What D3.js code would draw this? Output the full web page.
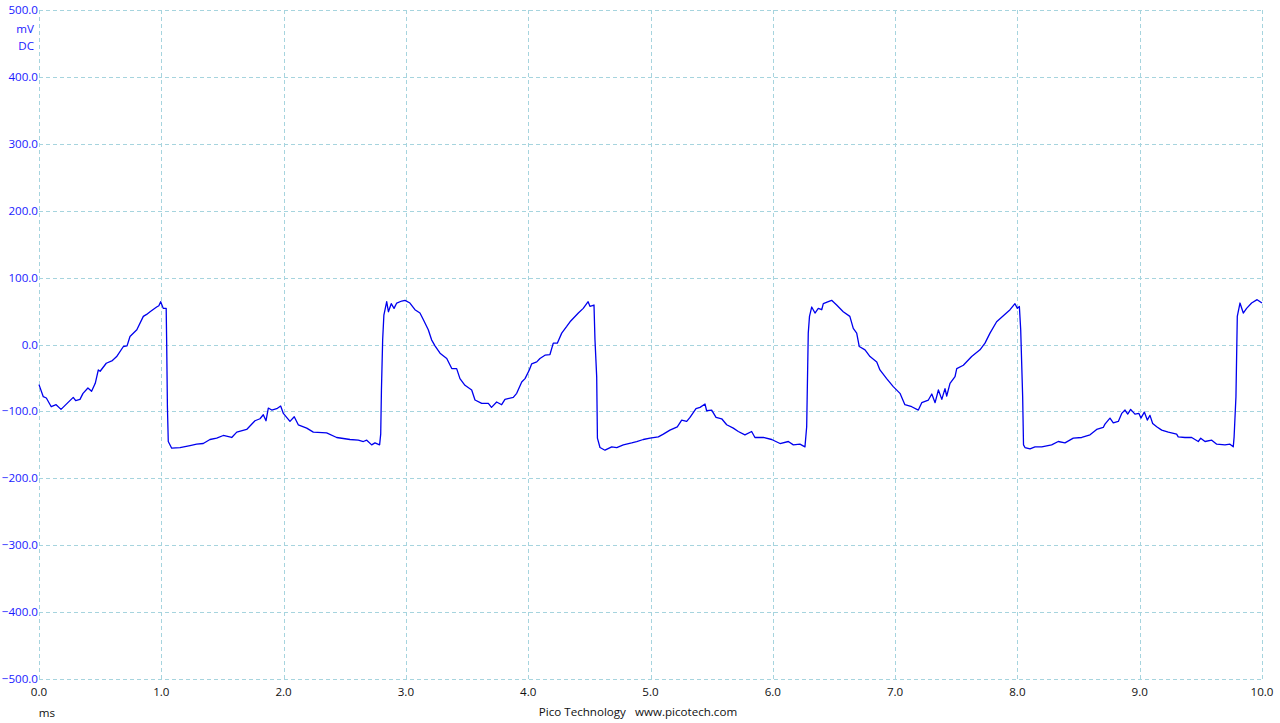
<!DOCTYPE html>
<html><head><meta charset="utf-8">
<script src="https://cdn.jsdelivr.net/npm/d3@7"></script>
<style>
html,body{margin:0;padding:0;background:#fff;}
svg{display:block;}
text{font-family:"Open Sans","Noto Sans",sans-serif;font-size:11.6px;}
</style></head>
<body><svg id="c" width="1280" height="723"></svg>
<script>
const xTicks = [0,1,2,3,4,5,6,7,8,9,10];
const yTicks = [500,400,300,200,100,0,-100,-200,-300,-400,-500];
const xUnit = "ms";
const yUnit = ["mV","DC"];
const footer = "Pico Technology   www.picotech.com";

const timeMs = [
0,0.035,0.06,0.10,0.14,0.18,0.23,0.28,0.30,0.335,
0.36,0.40,0.43,0.46,0.485,0.50,0.55,0.60,0.635,0.69,
0.72,0.744,0.80,0.853,0.88,0.908,0.962,0.98,0.995,1.016,
1.04,1.044,1.05,1.057,1.085,1.153,1.235,1.289,1.343,1.398,
1.453,1.507,1.576,1.617,1.698,1.766,1.807,1.834,1.856,1.875,
1.903,1.944,1.976,1.998,2.052,2.087,2.120,2.189,2.243,2.352,
2.434,2.543,2.611,2.652,2.680,2.720,2.747,2.785,2.794,2.80,
2.81,2.82,2.837,2.843,2.857,2.88,2.903,2.925,2.966,2.993,
3.033,3.074,3.115,3.143,3.183,3.21,3.238,3.279,3.334,3.375,
3.415,3.442,3.483,3.538,3.565,3.62,3.674,3.70,3.742,3.783,
3.81,3.878,3.906,3.947,3.974,4.009,4.028,4.07,4.096,4.137,
4.178,4.205,4.238,4.274,4.315,4.342,4.41,4.45,4.49,4.505,
4.538,4.546,4.56,4.566,4.587,4.628,4.683,4.724,4.778,4.846,
4.887,4.941,4.996,5.064,5.105,5.159,5.219,5.255,5.296,5.323,
5.372,5.405,5.446,5.459,5.500,5.536,5.582,5.623,5.677,5.718,
5.772,5.827,5.854,5.922,5.991,6.059,6.127,6.168,6.222,6.263,
6.277,6.29,6.30,6.318,6.345,6.372,6.40,6.413,6.454,6.481,
6.522,6.576,6.63,6.658,6.686,6.707,6.754,6.795,6.85,6.876,
6.931,6.985,7.04,7.08,7.136,7.19,7.218,7.272,7.30,7.327,
7.354,7.382,7.408,7.422,7.449,7.49,7.504,7.558,7.626,7.694,
7.735,7.776,7.83,7.885,7.94,7.98,8.0,8.016,8.027,8.043,
8.050,8.062,8.103,8.144,8.199,8.280,8.334,8.389,8.457,8.526,
8.594,8.648,8.702,8.716,8.757,8.784,8.825,8.853,8.880,8.902,
8.926,8.961,8.994,9.010,9.038,9.062,9.084,9.106,9.139,9.180,
9.234,9.302,9.315,9.370,9.425,9.479,9.499,9.534,9.589,9.630,
9.697,9.738,9.765,9.772,9.787,9.798,9.82,9.847,9.874,9.915,
9.96,10.0
];
const voltageMv = [
-60,-78,-80,-93,-90,-97,-88,-79,-84,-82,
-73,-65,-70,-58,-38,-40,-28,-24,-18,-3,
-2,12,22,42,45,49,56,58,64,54,
54,2,-93,-145,-155,-154,-151,-149,-148,-142,
-140,-136,-139,-131,-127,-114,-111,-105,-114,-95,
-98,-96,-92,-103,-115,-108,-120,-125,-131,-132,
-139,-142,-143,-145,-143,-150,-147,-150,-134,-68,
7,44,59,64,49,61,54,62,65,66,
62,52,47,37,22,7,-2,-13,-21,-36,
-36,-51,-61,-68,-83,-88,-88,-94,-86,-90,
-82,-79,-73,-56,-51,-38,-29,-26,-21,-16,
-15,2,2,17,27,34,47,54,64,57,
59,7,-48,-140,-154,-158,-153,-154,-150,-147,
-145,-142,-140,-138,-134,-128,-123,-113,-115,-109,
-96,-94,-89,-99,-98,-109,-111,-120,-125,-130,
-135,-130,-139,-139,-142,-148,-145,-150,-149,-153,
-123,17,42,56,47,54,52,61,64,66,
59,49,42,24,17,-3,-8,-18,-26,-38,
-51,-63,-73,-90,-93,-98,-87,-83,-74,-87,
-68,-82,-66,-77,-58,-48,-36,-31,-18,-8,
2,17,34,43,52,61,54,57,22,-78,
-150,-154,-156,-153,-153,-150,-145,-147,-140,-139,
-135,-127,-124,-119,-110,-117,-115,-103,-98,-104,
-97,-104,-103,-110,-101,-113,-106,-118,-123,-128,
-131,-134,-138,-139,-139,-145,-140,-145,-143,-149,
-150,-149,-153,-138,-78,42,62,47,54,62,
67,62
];

const plotL = 39, plotR = 1262, plotT = 10, plotB = 679;
const x = d3.scaleLinear().domain([0,10]).range([plotL,plotR]);
const y = d3.scaleLinear().domain([-500,500]).range([plotB,plotT]);
const svg = d3.select("#c");

const grid = svg.append("g").attr("stroke","#a6d4de").attr("stroke-width",1).attr("stroke-dasharray","4,3").attr("shape-rendering","crispEdges");
grid.selectAll("line.v").data(xTicks).join("line").attr("class","v")
  .attr("x1",d=>Math.round(x(d))+0.5).attr("x2",d=>Math.round(x(d))+0.5).attr("y1",plotT).attr("y2",plotB);
grid.selectAll("line.h").data(yTicks).join("line").attr("class","h")
  .attr("y1",d=>Math.round(y(d))+0.5).attr("y2",d=>Math.round(y(d))+0.5).attr("x1",plotL).attr("x2",plotR);

const yl = svg.append("g");
yl.selectAll("text").data(yTicks).join("text")
  .attr("x",plotL-1).attr("y",d=>y(d)).attr("dy","0.35em").attr("text-anchor","end")
  .attr("fill","#1a1aff").text(d=>d3.format(".1f")(d));
yl.selectAll("text.u").data(yUnit).join("text").attr("class","u")
  .attr("x",plotL-5).attr("y",(d,i)=>29+i*17).attr("dy","0.35em").attr("text-anchor","end")
  .attr("fill","#1a1aff").text(d=>d);

const xl = svg.append("g");
xl.selectAll("text").data(xTicks).join("text")
  .attr("x",d=>x(d)).attr("y",692).attr("dy","0.35em").attr("text-anchor","middle")
  .attr("fill","#111").text(d=>d3.format(".1f")(d));
svg.append("text").attr("x",47).attr("y",713).attr("dy","0.35em").attr("text-anchor","middle").attr("fill","#111").text(xUnit);
svg.append("text").attr("x",638).attr("y",712).attr("dy","0.35em").attr("text-anchor","middle").attr("fill","#111").attr("xml:space","preserve").style("white-space","pre").text(footer);

const data = timeMs.map((t,i)=>[t,voltageMv[i]]);
svg.append("path").datum(data)
  .attr("fill","none").attr("stroke","#0000ee").attr("stroke-width",1.3).attr("stroke-linejoin","round")
  .attr("d",d3.line().x(d=>x(d[0])).y(d=>y(d[1])));
</script></body></html>
